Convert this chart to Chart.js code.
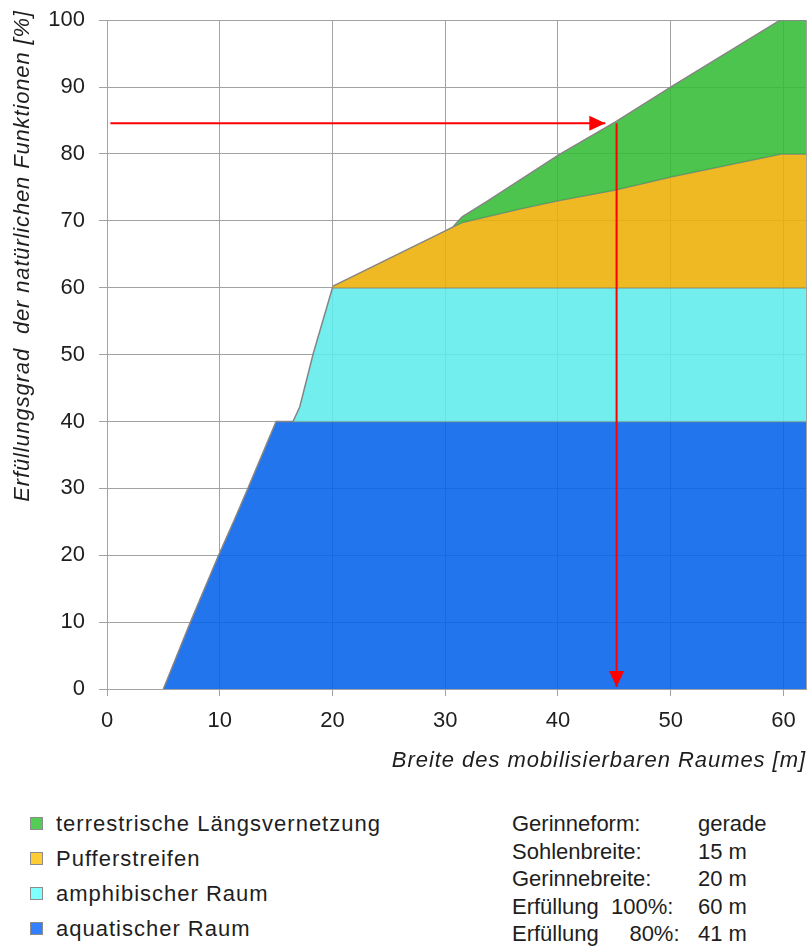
<!DOCTYPE html>
<html lang="de">
<head>
<meta charset="utf-8">
<title>Erfüllungsgrad der natürlichen Funktionen</title>
<script src="https://cdn.jsdelivr.net/npm/chart.js@4.4.1/dist/chart.umd.min.js"></script>
<style>
  body { margin: 0; background: #fff; overflow: hidden; }
  #page { position: relative; width: 811px; height: 947px; overflow: hidden; font-family: "Liberation Sans", Arial, sans-serif; color: #1e1e1e; }
  /* Canvas etwas größer, damit die Zeichenfläche trotz Label-Padding bei 20..808 px liegt */
  #chartBox { position: absolute; left: 0; top: -7px; }
  #legend { position: absolute; left: 30px; top: 806px; }
  .legend-row { height: 35px; line-height: 35px; font-size: 22px; letter-spacing: 1px; white-space: nowrap; }
  .legend-swatch { display: inline-block; width: 11px; height: 11px; border: 1px solid #8c8c8c; margin-right: 13px; vertical-align: 1px; }
  #info { position: absolute; left: 512px; top: 810px; font-size: 22px; line-height: 27.5px; }
  .info-row { position: relative; height: 27.5px; white-space: pre; }
  .info-value { position: absolute; left: 186px; top: 0; }
</style>
</head>
<body>
<div id="page">
  <div id="chartBox"><canvas id="fulfilChart" width="818" height="787"></canvas></div>
  <div id="legend"></div>
  <div id="info"></div>
</div>
<script>
// Wertebereiche der Achsen
const xMin = 0, xMax = 62;
const yMin = 0, yMax = 100, yStep = 10;
const xTickValues = [0, 10, 20, 30, 40, 50, 60];

// Oberkanten der Flächen (Breite [m] / Erfüllungsgrad [%])
const terrestrialX = [30.7, 31.5, 33.7, 40.1, 45.1, 50.1, 59.7, 62];
const terrestrialY = [69.1, 70.6, 72.9, 79.9, 84.8, 90.1, 100, 100];

const bufferX = [20.0, 30.0, 30.7, 31.6, 33.7, 36.7, 40.0, 45.1, 50.1, 59.8, 62];
const bufferY = [60.2, 68.5, 69.1, 69.8, 70.6, 71.8, 73.0, 74.6, 76.6, 80.0, 80];

const amphibicX = [16.5, 17.1, 18.3, 20.0, 62];
const amphibicY = [40, 42.2, 50.2, 60, 60];

const aquaticX = [5.0, 7.4, 9.9, 11.3, 12.5, 15.0, 62];
const aquaticY = [0, 10, 20, 25.3, 30, 40, 40];

// Ablese-Pfeile
const arrowLevel = 84.6;
const arrowHX = [0.3, 44.2];
const arrowHY = [arrowLevel, arrowLevel];
const arrowVX = [45.2, 45.2];
const arrowVY = [arrowLevel, 0.3];

// Legende und Kenndaten
const legendLabels = ['terrestrische Längsvernetzung', 'Pufferstreifen', 'amphibischer Raum', 'aquatischer Raum'];
const legendColors = ['#55cc55', '#ffcc33', '#80ffff', '#3380ff'];
const infoLabels = ['Gerinneform:', 'Sohlenbreite:', 'Gerinnebreite:', 'Erfüllung  100%:', 'Erfüllung     80%:'];
const infoValues = ['gerade', '15 m', '20 m', '60 m', '41 m'];

const xTitle = 'Breite des mobilisierbaren Raumes [m]';
const yTitle = 'Erfüllungsgrad  der natürlichen Funktionen [%]';

const gridColor = '#a2a2a2';
const edgeColor = '#858585';
const textColor = '#1e1e1e';
const fontFamily = '"Liberation Sans", Arial, sans-serif';

const toPoints = (xs, ys) => xs.map((x, i) => ({ x: x, y: ys[i] }));

function area(label, xs, ys, color, fill) {
  return {
    label: label,
    data: toPoints(xs, ys),
    borderColor: edgeColor,
    borderWidth: 1.5,
    backgroundColor: color,
    pointRadius: 0,
    tension: 0,
    fill: fill,
    order: 1
  };
}

function arrow(xs, ys) {
  return {
    data: toPoints(xs, ys),
    borderColor: '#ff0000',
    borderWidth: 2,
    pointRadius: 0,
    fill: false,
    order: -1,
    isArrow: true
  };
}

// Pfeilspitzen am Ende der Pfeil-Datensätze
const arrowHeads = {
  id: 'arrowHeads',
  afterDatasetsDraw(chart) {
    const ctx = chart.ctx;
    const xs = chart.scales.x, ys = chart.scales.y;
    chart.data.datasets.forEach(ds => {
      if (!ds.isArrow) return;
      const n = ds.data.length;
      const a = ds.data[n - 2], b = ds.data[n - 1];
      const ax = xs.getPixelForValue(a.x), ay = ys.getPixelForValue(a.y);
      const bx = xs.getPixelForValue(b.x), by = ys.getPixelForValue(b.y);
      const ang = Math.atan2(by - ay, bx - ax);
      const len = 16, half = 7.5;
      ctx.save();
      ctx.translate(bx, by);
      ctx.rotate(ang);
      ctx.beginPath();
      ctx.moveTo(0, 0);
      ctx.lineTo(-len, -half);
      ctx.lineTo(-len, half);
      ctx.closePath();
      ctx.fillStyle = ds.borderColor;
      ctx.fill();
      ctx.restore();
    });
  }
};

// Achsentitel (kursiv) relativ zur Zeichenfläche
const axisTitles = {
  id: 'axisTitles',
  afterDraw(chart) {
    const ctx = chart.ctx;
    const area = chart.chartArea;
    ctx.save();
    ctx.fillStyle = textColor;
    ctx.font = 'italic 22px ' + fontFamily;
    ctx.textAlign = 'right';
    ctx.textBaseline = 'alphabetic';
    ctx.letterSpacing = '0.95px';
    ctx.fillText(xTitle, area.right, area.bottom + 78);
    ctx.letterSpacing = '0.85px';
    ctx.translate(29, area.top - 10);
    ctx.rotate(-Math.PI / 2);
    ctx.fillText(yTitle, 0, 0);
    ctx.restore();
  }
};

const isLabelled = v => xTickValues.includes(v);

new Chart(document.getElementById('fulfilChart'), {
  type: 'line',
  data: {
    datasets: [
      area(legendLabels[0], terrestrialX, terrestrialY, 'rgba(52,188,52,0.88)', 1),
      area(legendLabels[1], bufferX, bufferY, 'rgba(236,175,5,0.88)', { value: 60 }),
      area(legendLabels[2], amphibicX, amphibicY, 'rgba(96,236,236,0.88)', { value: 40 }),
      area(legendLabels[3], aquaticX, aquaticY, 'rgba(4,98,236,0.88)', 'origin'),
      arrow(arrowHX, arrowHY),
      arrow(arrowVX, arrowVY)
    ]
  },
  options: {
    responsive: false,
    animation: false,
    layout: { padding: 0 },
    plugins: { legend: { display: false }, tooltip: { enabled: false } },
    scales: {
      x: {
        type: 'linear',
        min: xMin,
        max: xMax,
        afterBuildTicks: s => { s.ticks = xTickValues.concat([xMax]).map(v => ({ value: v })); },
        afterFit: s => { s.height = 91; },
        grid: {
          color: gridColor,
          lineWidth: 1,
          tickLength: 7,
          tickColor: c => (c.tick && !isLabelled(c.tick.value)) ? 'rgba(0,0,0,0)' : gridColor
        },
        border: { color: gridColor },
        ticks: {
          autoSkip: false,
          maxRotation: 0,
          padding: 12,
          color: textColor,
          font: { family: fontFamily, size: 22 },
          callback: v => isLabelled(v) ? v : ''
        }
      },
      y: {
        min: yMin,
        max: yMax,
        afterFit: s => { s.width = 107; },
        grid: { color: gridColor, lineWidth: 1, tickLength: 8 },
        border: { color: gridColor },
        ticks: {
          stepSize: yStep,
          padding: 14,
          color: textColor,
          font: { family: fontFamily, size: 22 }
        }
      }
    }
  },
  plugins: [arrowHeads, axisTitles]
});

// Legende unter dem Diagramm
document.getElementById('legend').innerHTML = legendLabels.map((label, i) => `
  <div class="legend-row"><span class="legend-swatch" style="background:${legendColors[i]}"></span>${label}</div>`).join('');

// Kenndaten rechts unten
document.getElementById('info').innerHTML = infoLabels.map((label, i) => `
  <div class="info-row">${label}<span class="info-value">${infoValues[i]}</span></div>`).join('');
</script>
</body>
</html>
